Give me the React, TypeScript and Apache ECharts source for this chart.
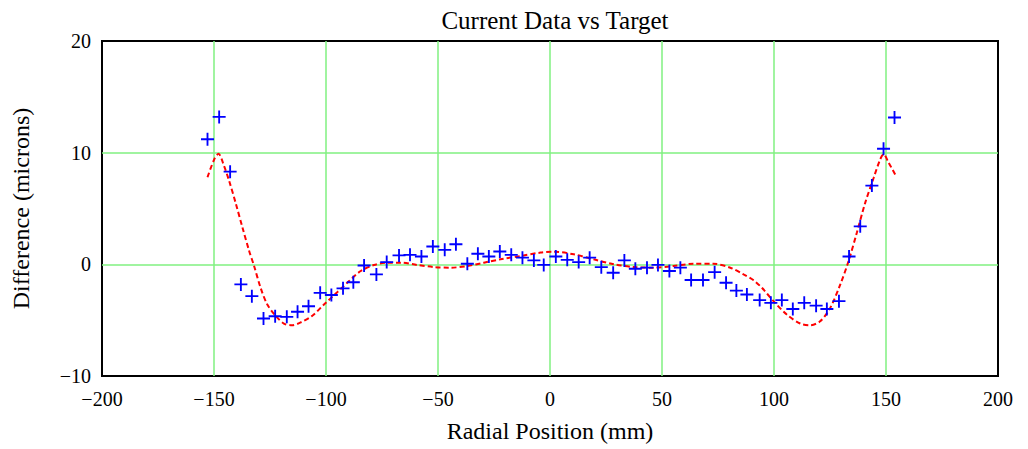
import React, { useEffect, useRef } from "react";
import * as echarts from "echarts";

const dataX = [
  -152.9, -147.7, -142.8, -138.0, -133.1, -127.9, -122.7, -117.5, -112.7, -107.8,
  -102.6, -97.6, -92.4, -87.8, -83.0, -77.5, -72.9, -67.4, -62.5, -57.4,
  -52.3, -47.0, -42.0, -36.9, -32.2, -27.3, -22.4, -17.3, -12.3, -7.2,
  -2.8, 2.6, 7.7, 12.8, 17.7, 22.9, 28.2, 33.2, 38.1, 43.3,
  48.2, 53.3, 58.2, 63.0, 68.3, 73.5, 78.6, 83.2, 87.9, 93.6,
  98.6, 103.5, 108.4, 113.5, 118.8, 123.6, 129.0, 133.5, 138.5, 143.7,
  148.9, 153.8,
];
const dataY = [
  11.2, 13.2, 8.3, -1.8, -2.85, -4.85, -4.65, -4.7, -4.25, -3.75,
  -2.55, -2.75, -2.15, -1.6, -0.1, -0.9, 0.2, 0.8, 0.85, 0.7,
  1.6, 1.3, 1.8, 0.05, 0.95, 0.7, 1.15, 0.85, 0.6, 0.35,
  -0.05, 0.7, 0.4, 0.2, 0.6, -0.25, -0.75, 0.35, -0.4, -0.3,
  -0.05, -0.6, -0.3, -1.4, -1.4, -0.7, -1.65, -2.35, -2.7, -3.2,
  -3.45, -3.2, -4.0, -3.45, -3.7, -4.0, -3.3, 0.7, 3.4, 7.05,
  10.35, 13.15,
];

const targetX = [
  -152.9, -149.9, -148.0, -145.5, -143.2, -140.2, -137.3, -134.3, -132.1, -129.2,
  -126.2, -122.5, -118.8, -115.1, -111.3, -106.1, -100.9, -95.0, -89.7, -84.5,
  -78.6, -72.6, -66.7, -59.2, -51.8, -44.4, -36.9, -29.5, -22.1, -13.1,
  -4.2, 1.7, 10.6, 19.5, 28.5, 37.4, 46.3, 55.2, 64.1, 73.0,
  80.5, 86.4, 90.9, 94.6, 99.8, 105.7, 111.7, 116.2, 120.6, 125.1,
  129.6, 133.3, 137.0, 140.7, 144.5, 147.4, 148.9, 151.2, 154.1,
];
const targetY = [
  7.8, 9.4, 9.9, 8.8, 7.45, 5.4, 3.3, 1.2, -0.15, -2.1,
  -3.6, -4.6, -5.3, -5.45, -5.2, -4.6, -3.6, -2.5, -1.5, -0.6,
  -0.06, 0.15, 0.15, -0.06, -0.24, -0.3, -0.15, 0.15, 0.45, 0.75,
  1.05, 1.13, 0.9, 0.45, 0.0, -0.24, -0.3, -0.15, 0.05, 0.05,
  -0.3, -0.9, -1.43, -2.1, -3.3, -4.5, -5.3, -5.45, -5.1, -3.9,
  -1.8, 0.3, 2.85, 5.5, 7.75, 9.4, 9.85, 9.1, 8.05,
];

const titleText = "Current Data vs Target";
const xName = "Radial Position (mm)";
const yName = "Difference (microns)";

const FONT = "'Liberation Serif', 'DejaVu Serif', serif";
const PLUS = "path://M6,0 h2 v14 h-2 z M0,6 h14 v2 h-14 z";
const GRID_GREEN = "#80f080";

const fmt = (v: number) => String(v).replace("-", "\u2212");

export default function App() {
  const ref = useRef<HTMLDivElement>(null);
  useEffect(() => {
    if (!ref.current) return;
    const chart = echarts.init(ref.current, null, { renderer: "svg" });
    chart.setOption({
      animation: false,
      backgroundColor: "#ffffff",
      title: {
        text: titleText,
        left: 550,
        top: 3,
        textAlign: "center",
        textStyle: { fontFamily: FONT, fontSize: 25, fontWeight: "normal", color: "#000" },
      },
      grid: {
        left: 102,
        right: 30,
        top: 41,
        bottom: 73,
        show: true,
        borderColor: "#000",
        borderWidth: 2,
        backgroundColor: "transparent",
      },
      xAxis: {
        type: "value",
        min: -200,
        max: 200,
        interval: 50,
        name: xName,
        nameLocation: "middle",
        nameGap: 43,
        nameTextStyle: { fontFamily: FONT, fontSize: 24, color: "#000" },
        axisLine: { show: false },
        axisTick: { show: false },
        axisLabel: {
          fontFamily: FONT,
          fontSize: 20,
          color: "#000",
          margin: 13,
          formatter: fmt,
        },
        splitLine: {
          show: true,
          showMinLine: false,
          showMaxLine: false,
          lineStyle: { color: GRID_GREEN, width: 1.5 },
        },
      },
      yAxis: {
        type: "value",
        min: -10,
        max: 20,
        interval: 10,
        name: yName,
        nameLocation: "middle",
        nameGap: 69,
        nameTextStyle: { fontFamily: FONT, fontSize: 24, color: "#000" },
        axisLine: { show: false },
        axisTick: { show: false },
        axisLabel: {
          fontFamily: FONT,
          fontSize: 20,
          color: "#000",
          margin: 11,
          padding: [8, 0, 0, 0],
          formatter: fmt,
        },
        splitLine: {
          show: true,
          showMinLine: false,
          showMaxLine: false,
          lineStyle: { color: GRID_GREEN, width: 1.5 },
        },
      },
      series: [
        {
          type: "line",
          data: targetX.map((x, i) => [x, targetY[i]]),
          showSymbol: false,
          symbol: "none",
          smooth: 0.3,
          lineStyle: { color: "#ff0000", width: 2, type: [5, 3] },
          z: 2,
        },
        {
          type: "scatter",
          data: dataX.map((x, i) => [x, dataY[i]]),
          symbol: PLUS,
          symbolSize: 13,
          itemStyle: { color: "#0000ff", opacity: 1 },
          z: 3,
        },
      ],
    });
    return () => chart.dispose();
  }, []);
  return (
    <div
      ref={ref}
      style={{ position: "absolute", left: 0, top: 0, width: 1028, height: 449 }}
    />
  );
}
